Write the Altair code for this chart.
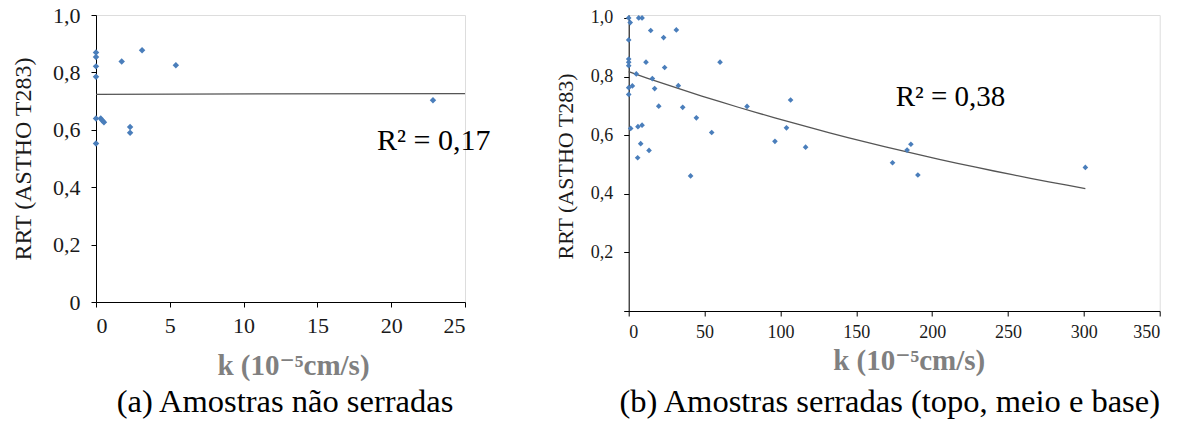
import altair as alt
import pandas as pd

# ---------------- data ----------------
# (a) Amostras não serradas
k_a = [0.0, 0.0, 0.0, 0.0, 1.74, 3.12, 5.41, 0.0, 0.32, 0.43, 0.54, 2.31, 2.31, 0.0, 22.83]
rrt_a = [0.869, 0.854, 0.821, 0.785, 0.838, 0.877, 0.825, 0.639, 0.639, 0.632, 0.626, 0.610, 0.590, 0.552, 0.703]

# (b) Amostras serradas (topo, meio e base)
k_b = [0.0, 1.0, 6.6, 8.8, 14.5, 31.4, 23.0, 0.0, 0.0, 0.0, 0.0, 11.4, 23.7, 60.2,
       5.0, 15.6, 17.1, 32.7, 0.0, 2.4, 0.0, 19.8, 35.6, 78.0, 106.7, 44.6, 1.3,
       6.1, 8.8, 54.7, 104.0, 96.4, 116.6, 7.9, 13.4, 5.9, 40.8, 173.9, 183.5,
       186.0, 190.6, 301.0]
rrt_b = [1.000, 0.984, 1.000, 1.000, 0.957, 0.959, 0.933, 0.925, 0.860, 0.849, 0.837,
         0.849, 0.831, 0.849, 0.809, 0.793, 0.759, 0.769, 0.762, 0.768, 0.739, 0.699,
         0.695, 0.698, 0.720, 0.659, 0.623, 0.629, 0.634, 0.609, 0.625, 0.579, 0.559,
         0.571, 0.548, 0.523, 0.461, 0.506, 0.549, 0.569, 0.464, 0.490]

x_ticks_a = [0, 5, 10, 15, 20, 25]
x_ticks_b = [0, 50, 100, 150, 200, 250, 300, 350]
y_ticks_a = [0, 0.2, 0.4, 0.6, 0.8, 1.0]
y_ticks_b = [0, 0.1, 0.2, 0.3, 0.4, 0.5, 0.6, 0.7, 0.8, 0.9, 1.0]

x_title = "k (10⁻⁵cm/s)"
y_title = "RRT (ASTHO T283)"
r2_a = "R² = 0,17"
r2_b = "R² = 0,38"
caption_a = "(a)  Amostras não serradas"
caption_b = "(b) Amostras serradas (topo, meio e base)"

FONT = "'Liberation Serif', 'Times New Roman', Times, 'DejaVu Serif', serif"
BLUE = "#4A7EBB"
LINE = "#555555"
TITLE_GRAY = "#808080"

df_a = pd.DataFrame({"k": k_a, "rrt": rrt_a})
df_b = pd.DataFrame({"k": k_b, "rrt": rrt_b})

lab_a = "datum.value == 0 ? '0' : replace(format(datum.value, '.1f'), '.', ',')"
lab_b = "(datum.value == 0 || round(datum.value * 10) % 2 == 1) ? '' : replace(format(datum.value, '.1f'), '.', ',')"

def common_axis(**kw):
    base = dict(grid=False, domainColor="black", domainWidth=1, tickColor="black",
                tickSize=5, labelFont=FONT, labelColor="#1a1a1a", titleFont=FONT)
    base.update(kw)
    return alt.Axis(**base)

# ---------------- panel (a) ----------------
WA, HA = 369, 287
xa = alt.X("k:Q", scale=alt.Scale(domain=[0, 25], nice=False),
           axis=common_axis(values=x_ticks_a, labelFontSize=22, labelPadding=8,
                            title=x_title, titleFontSize=29, titleFontWeight="bold",
                            titleColor=TITLE_GRAY, titleX=197, titleY=72,
                            titleAlign="center", titleBaseline="alphabetic"))
ya = alt.Y("rrt:Q", scale=alt.Scale(domain=[0, 1], nice=False),
           axis=common_axis(values=y_ticks_a, labelExpr=lab_a, labelFontSize=22, labelPadding=11,
                            title=y_title, titleFontSize=24, titleFontWeight="normal",
                            titleColor="#1a1a1a", titleX=-73, titleY=HA / 2,
                            titleAngle=270, titleAlign="center", titleBaseline="middle"))

pts_a = alt.Chart(df_a).mark_point(shape="diamond", filled=True, size=42, color=BLUE, opacity=1).encode(x=xa, y=ya)
trend_a = alt.Chart(df_a).transform_regression("k", "rrt", method="linear", extent=[0, 25]).mark_line(
    color=LINE, strokeWidth=1.3).encode(x="k:Q", y="rrt:Q")
r2a = alt.Chart(pd.DataFrame({"t": [r2_a]})).mark_text(
    font=FONT, fontSize=30, align="left", baseline="alphabetic", color="black").encode(
    x=alt.value(281), y=alt.value(135), text="t:N")
cap_a = alt.Chart(pd.DataFrame({"t": [caption_a]})).mark_text(
    font=FONT, fontSize=32.5, align="center", baseline="alphabetic", color="black").encode(
    x=alt.value(189), y=alt.value(397), text="t:N")
panel_a = alt.layer(trend_a, pts_a, r2a, cap_a).properties(width=WA, height=HA)

# ---------------- panel (b) ----------------
WB, HB = 531, 296
xb = alt.X("k:Q", scale=alt.Scale(domain=[0, 350], nice=False),
           axis=common_axis(values=x_ticks_b, labelFontSize=18, labelPadding=7,
                            title=x_title, titleFontSize=29, titleFontWeight="bold",
                            titleColor=TITLE_GRAY, titleX=280, titleY=58,
                            titleAlign="center", titleBaseline="alphabetic"))
yb = alt.Y("rrt:Q", scale=alt.Scale(domain=[0, 1.01], nice=False),
           axis=common_axis(values=y_ticks_b, labelExpr=lab_b, labelFontSize=18, labelPadding=11,
                            title=y_title, titleFontSize=22, titleFontWeight="normal",
                            titleColor="#1a1a1a", titleX=-63, titleY=151,
                            titleAngle=270, titleAlign="center", titleBaseline="middle"))

pts_b = alt.Chart(df_b).mark_point(shape="diamond", filled=True, size=32, color=BLUE, opacity=1).encode(x=xb, y=yb)
trend_b = alt.Chart(df_b).transform_regression("k", "rrt", method="exp").mark_line(
    color=LINE, strokeWidth=1.3).encode(x="k:Q", y="rrt:Q")
r2b = alt.Chart(pd.DataFrame({"t": [r2_b]})).mark_text(
    font=FONT, fontSize=29, align="left", baseline="alphabetic", color="black").encode(
    x=alt.value(267), y=alt.value(91), text="t:N")
cap_b = alt.Chart(pd.DataFrame({"t": [caption_b]})).mark_text(
    font=FONT, fontSize=32.5, align="center", baseline="alphabetic", color="black").encode(
    x=alt.value(261), y=alt.value(397), text="t:N")
panel_b = alt.layer(trend_b, pts_b, r2b, cap_b).properties(width=WB, height=HB)

chart = alt.hconcat(panel_a, panel_b, spacing=163.7, bounds="flush").properties(
    padding={"left": 2, "top": -5, "right": 0, "bottom": 0}
).configure_view(stroke=None).configure(background="white")

chart.save("out.html", embed_options={"renderer": "svg", "actions": False})
